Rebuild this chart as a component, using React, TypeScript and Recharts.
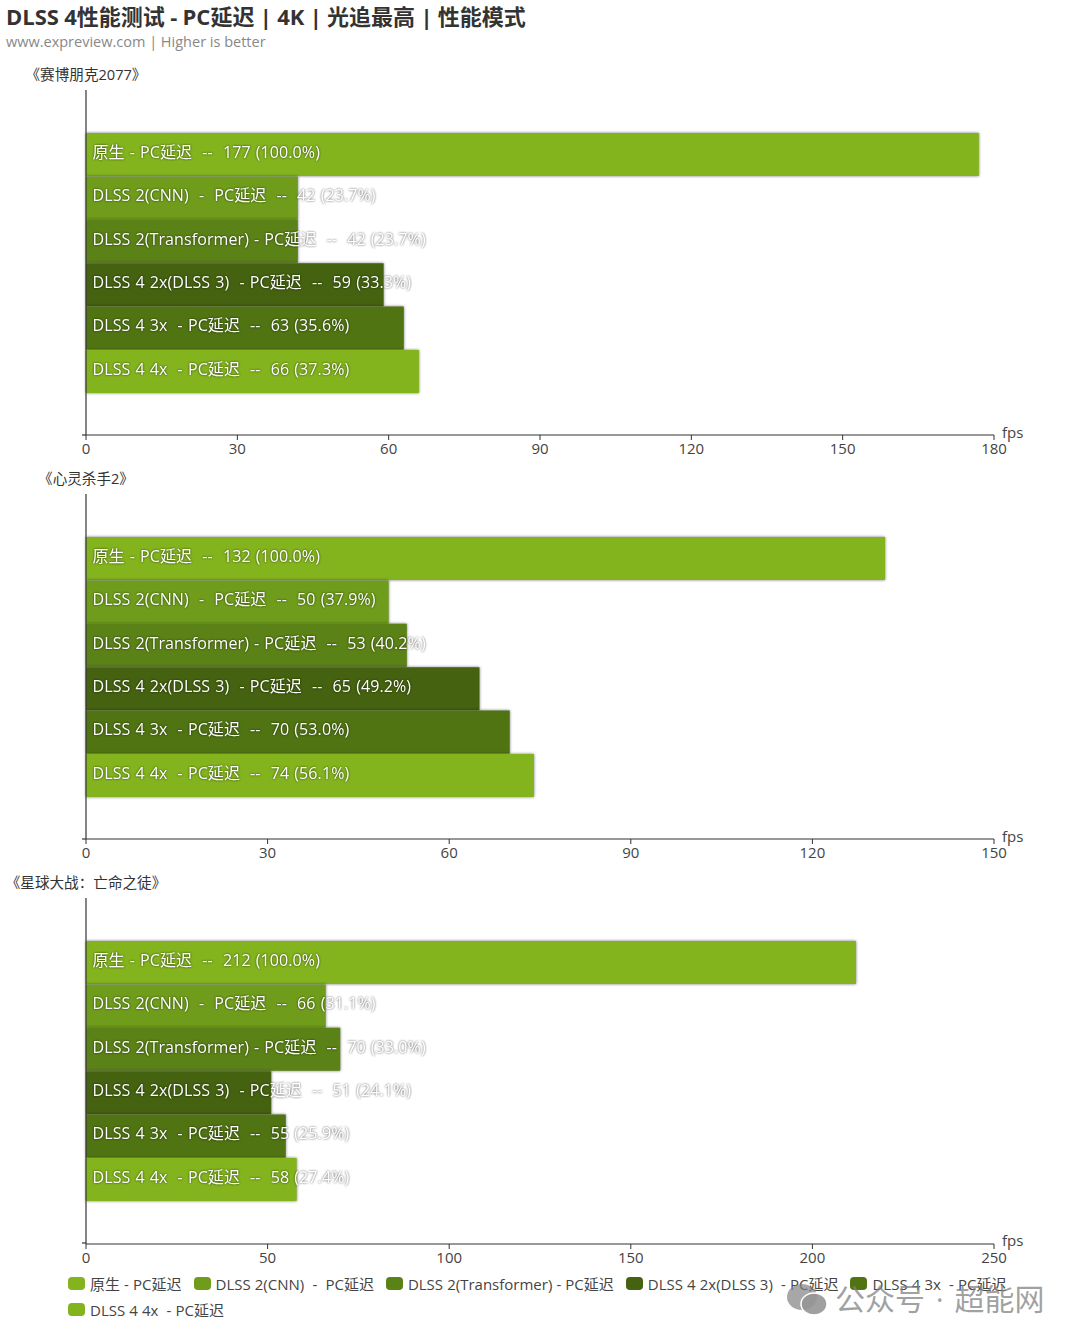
import * as React from "react";
import { Bar, BarChart, LabelList, Legend, XAxis, YAxis } from "recharts";

const FONT = '"Open Sans", "Noto Sans CJK SC", sans-serif';

const seriesNames = [
  "原生 - PC延迟",
  "DLSS 2(CNN)  -  PC延迟",
  "DLSS 2(Transformer) - PC延迟",
  "DLSS 4 2x(DLSS 3)  - PC延迟",
  "DLSS 4 3x  - PC延迟",
  "DLSS 4 4x  - PC延迟",
];
const seriesColors = ["#83b41e", "#6f9d1b", "#5b8216", "#44620f", "#507412", "#83b41e"];

const cyberpunkValues = [177, 42, 42, 59, 63, 66];
const hitmanValues = [132, 50, 53, 65, 70, 74];
const outlawsValues = [212, 66, 70, 51, 55, 58];

const cyberpunkTicks = [0, 30, 60, 90, 120, 150, 180];
const hitmanTicks = [0, 30, 60, 90, 120, 150];
const outlawsTicks = [0, 50, 100, 150, 200, 250];

const CHART_WIDTH = 1080;
const PLOT_HEIGHT = 345;

// One category holding six series, so the bars sit under each other
function GameChart({ game, values, ticks, top, withLegend = false }: any) {
  const row: Record<string, any> = { game };
  seriesNames.forEach((name, i) => {
    row[name] = values[i];
  });
  // the legend reserves its own height on top of this margin
  const bottom = withLegend ? 22 : 5;
  const height = 30 + PLOT_HEIGHT + 30 + (withLegend ? 70 : 5);

  const renderValueLabel = (index: number) => (props: any) => {
    const { x, y, height: h } = props;
    const pct = ((values[index] / values[0]) * 100).toFixed(1);
    return (
      <text
        x={x + 6.5}
        y={y + h / 2}
        dy="0.21em"
        fill="#fff"
        fontSize={16}
        fontFamily={FONT}
        style={{
          whiteSpace: "pre",
          wordSpacing: 0.8,
          letterSpacing: 0.1,
          filter: "drop-shadow(0.5px 0.5px 1.2px rgba(0,0,0,0.65))",
        }}
      >
        {`${seriesNames[index]}  --  ${values[index]} (${pct}%)`}
      </text>
    );
  };

  return (
    <div style={{ position: "absolute", left: 0, top }}>
      <BarChart
        width={CHART_WIDTH}
        height={height}
        data={[row]}
        layout="vertical"
        margin={{ top: 30, right: 86, bottom, left: 85 }}
        barSize={43}
        barGap={0.4}
      >
        <XAxis
          type="number"
          domain={[0, ticks[ticks.length - 1]]}
          ticks={ticks}
          interval={0}
          height={30}
          tickSize={5}
          tickMargin={3}
          axisLine={{ stroke: "#333", strokeWidth: 1.2 }}
          tickLine={{ stroke: "#333" }}
          tick={{ fill: "#444", fontSize: 15, fontFamily: FONT }}
        />
        <YAxis
          type="category"
          dataKey="game"
          width={1}
          tick={false}
          tickLine={false}
          axisLine={{ stroke: "#333", strokeWidth: 1.2 }}
        />
        {seriesNames.map((name, i) => (
          <Bar
            key={name}
            dataKey={name}
            fill={seriesColors[i]}
            isAnimationActive={false}
            style={{ filter: "drop-shadow(0 0 1.5px rgba(0,0,0,0.55))" }}
          >
            <LabelList dataKey={name} content={renderValueLabel(i)} />
          </Bar>
        ))}
        {withLegend && (
          <Legend
            verticalAlign="bottom"
            wrapperStyle={{ left: 68, top: 405, width: 960, bottom: "auto", right: "auto" }}
            content={() => (
              <div style={{ display: "flex", flexWrap: "wrap", columnGap: 12, rowGap: 5 }}>
                {seriesNames.map((name, i) => (
                  <span
                    key={name}
                    style={{
                      display: "inline-flex",
                      alignItems: "center",
                      height: 21,
                      fontSize: 15,
                      fontFamily: FONT,
                      color: "#444",
                      whiteSpace: "pre",
                      wordSpacing: 0.2,
                    }}
                  >
                    <span
                      style={{
                        width: 17,
                        height: 13,
                        borderRadius: 4,
                        background: seriesColors[i],
                        marginRight: 5,
                      }}
                    />
                    {name}
                  </span>
                ))}
              </div>
            )}
          />
        )}
        <text x={86} y={20} textAnchor="middle" fill="#333" fontSize={14.6} fontFamily={FONT}>
          {game}
        </text>
        <line x1={82} x2={86} y1={375} y2={375} stroke="#333" strokeWidth={1.2} />
        <text x={1002} y={378} fill="#444" fontSize={15} fontFamily={FONT}>
          fps
        </text>
      </BarChart>
    </div>
  );
}

export default function App() {
  return (
    <div
      style={{
        position: "absolute",
        left: 0,
        top: 0,
        width: 1080,
        height: 1343,
        background: "#fff",
        overflow: "hidden",
        fontFamily: FONT,
      }}
    >
      <div
        style={{
          position: "absolute",
          left: 6,
          top: 1,
          fontSize: 22,
          fontWeight: 700,
          color: "#333",
          whiteSpace: "nowrap",
          lineHeight: "30px",
          wordSpacing: -0.4,
        }}
      >
        DLSS 4性能测试 - PC延迟 | 4K | 光追最高 | 性能模式
      </div>
      <div
        style={{
          position: "absolute",
          left: 6,
          top: 31,
          fontSize: 14.5,
          color: "#888",
          whiteSpace: "nowrap",
          lineHeight: "21px",
        }}
      >
        www.expreview.com | Higher is better
      </div>
      <GameChart game="《赛博朋克2077》" values={cyberpunkValues} ticks={cyberpunkTicks} top={60} />
      <GameChart game="《心灵杀手2》" values={hitmanValues} ticks={hitmanTicks} top={464} />
      <GameChart game="《星球大战：亡命之徒》" values={outlawsValues} ticks={outlawsTicks} top={868} withLegend />
      {/* watermark */}
      <div
        style={{
          position: "absolute",
          left: 786,
          top: 1281,
          display: "flex",
          alignItems: "center",
          color: "rgba(130,130,130,0.75)",
          fontSize: 30,
          lineHeight: "36px",
          whiteSpace: "nowrap",
          wordSpacing: 3,
        }}
      >
        <svg width={42} height={32} style={{ marginRight: 7 }}>
          <ellipse cx={16} cy={14} rx={15} ry={13} fill="rgba(130,130,130,0.7)" />
          <ellipse cx={28} cy={21} rx={13} ry={11} fill="rgba(150,150,150,0.9)" stroke="#fff" strokeWidth={1.5} />
        </svg>
        公众号 · 超能网
      </div>
    </div>
  );
}
